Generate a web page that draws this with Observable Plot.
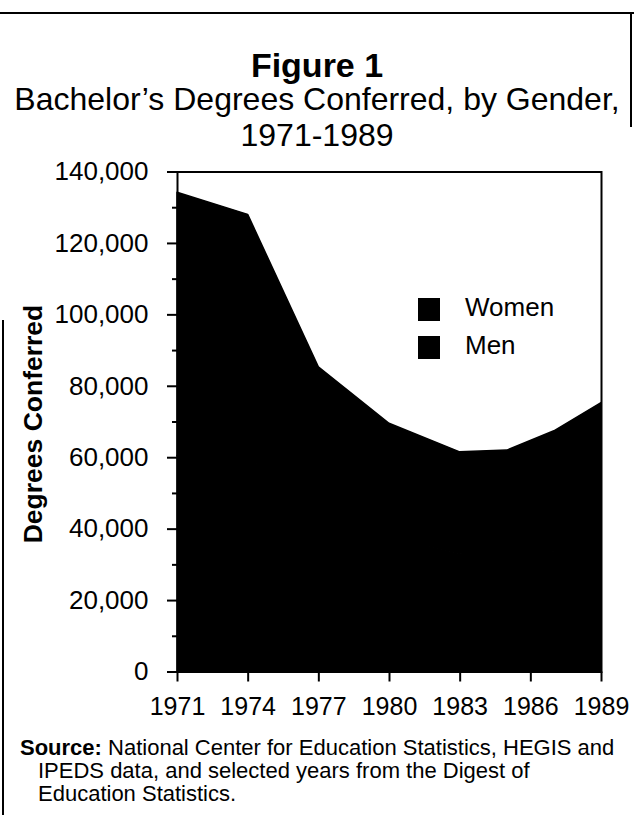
<!DOCTYPE html>
<html>
<head>
<meta charset="utf-8">
<script src="https://cdn.jsdelivr.net/npm/d3@7"></script>
<script src="https://cdn.jsdelivr.net/npm/@observablehq/plot@0.6"></script>
<style>
  html, body { margin: 0; padding: 0; background: #fff; }
  body { width: 634px; height: 815px; position: relative; overflow: hidden;
         font-family: "Liberation Sans", Arial, Helvetica, sans-serif; color: #000; }
  .abs { position: absolute; z-index: 2; }
  #chart { left: 0; top: 150px; z-index: 1; }
  #title { left: 0; width: 634px; top: 45px; text-align: center; font-weight: bold; font-size: 34px; line-height: 40px; }
  .sub { left: 0; width: 634px; text-align: center; font-size: 32px; line-height: 32px; white-space: nowrap; }
  #ylabel { left: 33px; top: 424px; transform: translate(-50%, -50%) rotate(-90deg); font-weight: bold; font-size: 26.5px; white-space: nowrap; }
  .leg { left: 418px; font-size: 26px; line-height: 25px; }
  .sw { display: inline-block; width: 22px; height: 23px; background: #000; vertical-align: middle; margin-right: 25px; }
  #source { left: 20px; top: 736px; width: 614px; font-size: 22px; line-height: 23px; white-space: nowrap; }
  #source .ind { padding-left: 18px; }
  .bt { background: #000; z-index: 3; }
</style>
</head>
<body>
<div id="chart" class="abs"></div>
<div class="abs bt" style="left:0; top:12px; width:634px; height:2px;"></div>
<div class="abs bt" style="left:630px; top:12px; width:1.5px; height:115px;"></div>
<div class="abs bt" style="left:2px; top:320px; width:1.5px; height:495px;"></div>
<div id="title" class="abs">Figure 1</div>
<div class="abs sub" style="top:83px;">Bachelor’s Degrees Conferred, by Gender,</div>
<div class="abs sub" style="top:119px;">1971-1989</div>
<div id="ylabel" class="abs">Degrees Conferred</div>
<div id="leg1" class="abs leg" style="top:295px;"><span class="sw"></span>Women</div>
<div id="leg2" class="abs leg" style="top:333px;"><span class="sw"></span>Men</div>
<div id="source" class="abs"><b>Source:</b> National Center for Education Statistics, HEGIS and<br><span class="ind">IPEDS data, and selected years from the Digest of</span><br><span class="ind">Education Statistics.</span></div>
<script>
// Data
const years = [1971, 1974, 1977, 1980, 1983, 1985, 1987, 1989];
const men   = [60500, 59800, 46000, 38000, 33000, 32000, 33500, 36000];
const women = [73700, 68200, 39300, 31500, 28500, 30000, 33900, 39300];
const genders = ["Men", "Women"];
const xTicks = [1971, 1974, 1977, 1980, 1983, 1986, 1989];
const yMajor = [0, 20000, 40000, 60000, 80000, 100000, 120000, 140000];
const yMinor = [10000, 30000, 50000, 70000, 90000, 110000, 130000];

const rows = [];
years.forEach((yr, i) => {
  rows.push({year: yr, gender: "Men", value: men[i]});
  rows.push({year: yr, gender: "Women", value: women[i]});
});

const chart = Plot.plot({
  width: 634,
  height: 570,
  marginTop: 21.5,
  marginBottom: 48.5,
  marginLeft: 177,
  marginRight: 33,
  style: {fontFamily: "'Liberation Sans', Arial, Helvetica, sans-serif", fontSize: "26px", color: "#000", background: "transparent", overflow: "visible"},
  x: {domain: [1971, 1989], label: null},
  y: {domain: [0, 140000], label: null},
  color: {domain: genders, range: ["#000", "#000"]},
  marks: [
    Plot.areaY(rows, {x: "year", y: "value", fill: "gender", stroke: "gender", strokeWidth: 1.5, z: "gender", order: genders}),
    Plot.frame({stroke: "#000", strokeWidth: 2}),
    Plot.axisY({ticks: yMajor, tickSize: 10, tickPadding: 19, strokeWidth: 2, tickFormat: d3.format(","), fontSize: 26}),
    Plot.axisY({ticks: yMinor, tickSize: 5, strokeWidth: 2, tickFormat: () => ""}),
    Plot.axisX({ticks: xTicks, tickSize: 10, tickPadding: 15, strokeWidth: 2, tickFormat: d3.format("d"), fontSize: 25})
  ]
});
document.getElementById("chart").appendChild(chart);
</script>
</body>
</html>
